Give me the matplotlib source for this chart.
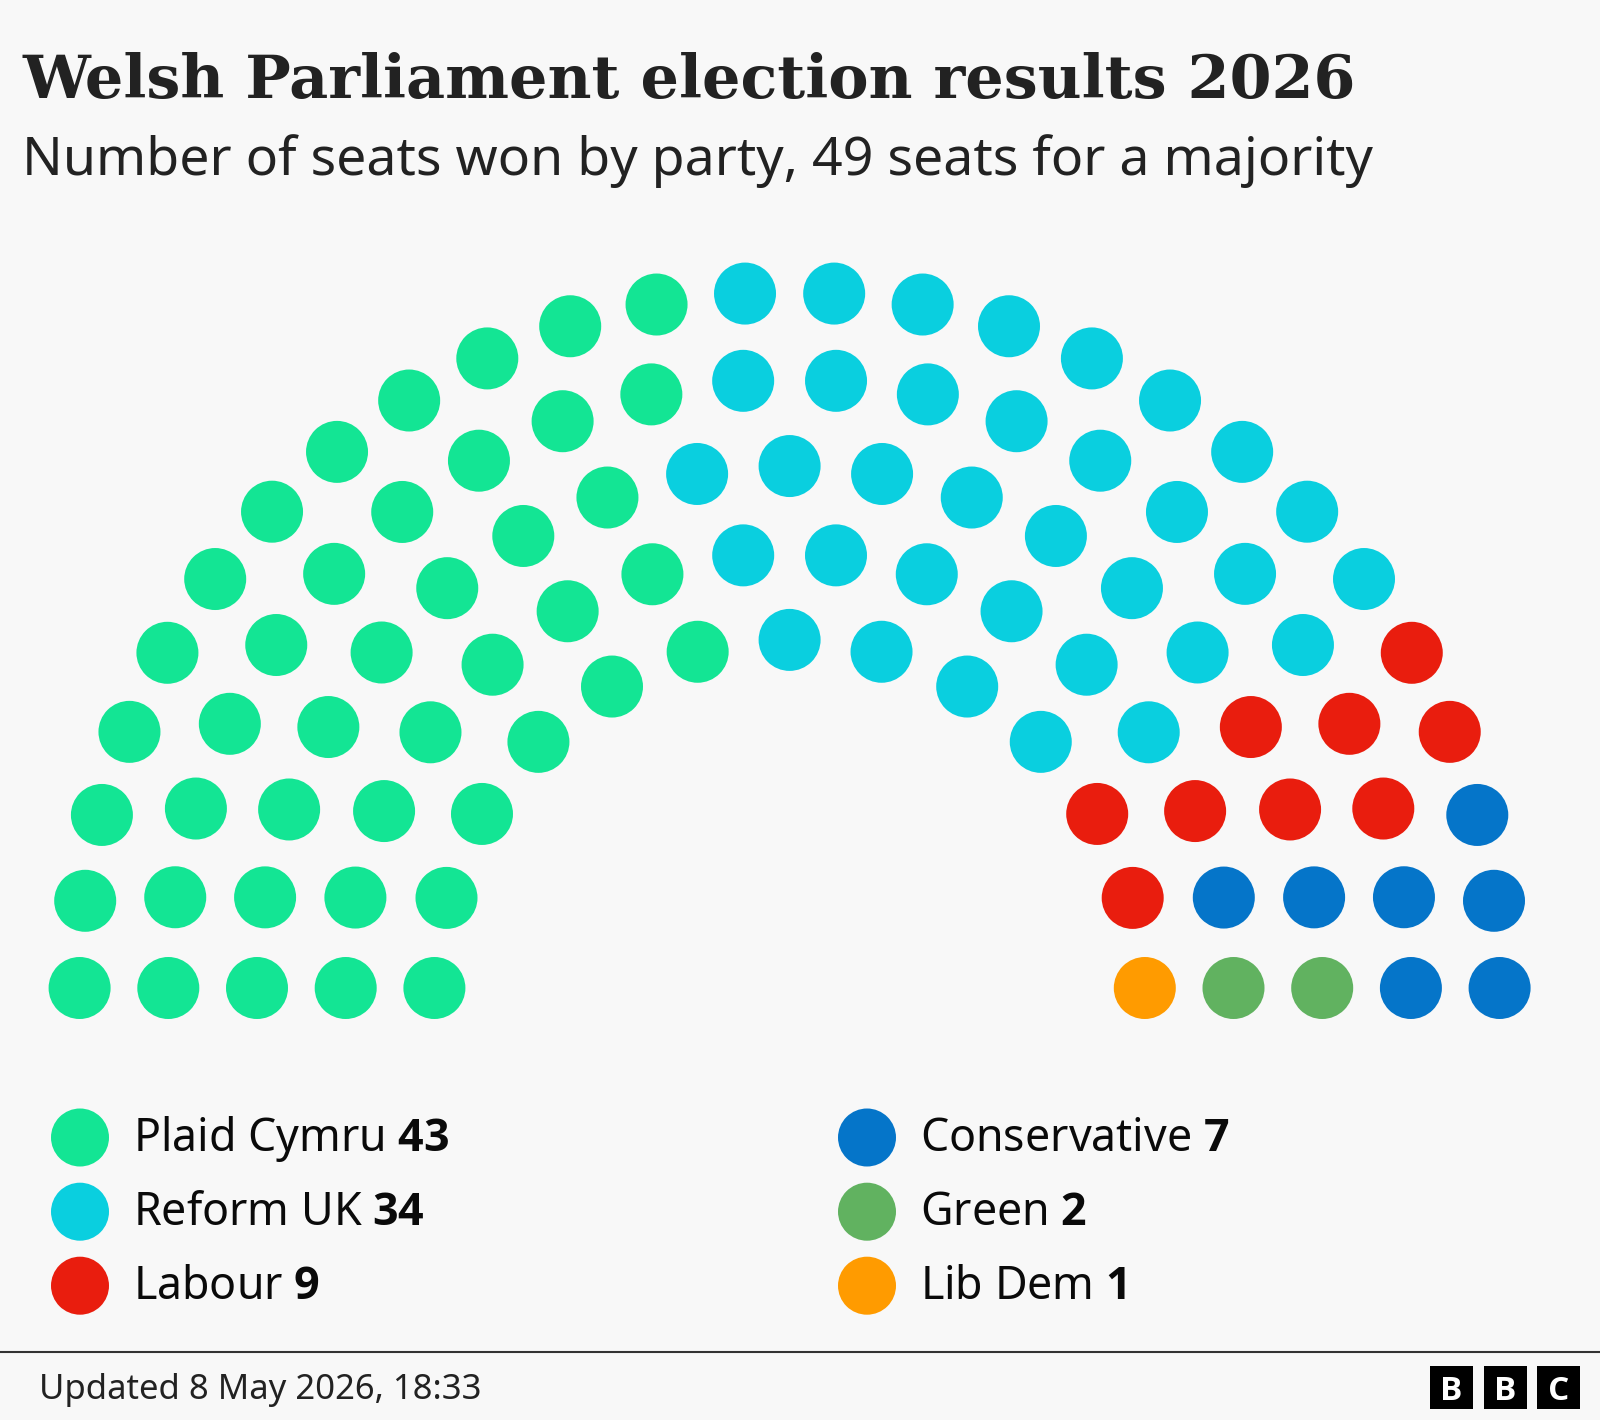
import numpy as np
import matplotlib
matplotlib.use("Agg")
import matplotlib.pyplot as plt
from matplotlib.patches import Circle, Rectangle

# ------------------------------------------------------------
# data
# ------------------------------------------------------------
PARTIES = ["Plaid Cymru", "Reform UK", "Labour", "Conservative", "Green", "Lib Dem"]
SEATS = [43, 34, 9, 7, 2, 1]
COLOURS = ["#13e594", "#0acfdf", "#e91d0e", "#0575c9", "#61b260", "#ff9b00"]
MAJORITY = 49

TITLE = "Welsh Parliament election results 2026"
SUBTITLE = f"Number of seats won by party, {MAJORITY} seats for a majority"
FOOTER = "Updated 8 May 2026, 18:33"
LOGO = ["B", "B", "C"]

# ------------------------------------------------------------
# layout (pixel units, origin top-left)
# ------------------------------------------------------------
W, H = 1600, 1420
BG = "#f8f8f8"
ROW_SEATS = [26, 22, 19, 16, 13]   # outer -> inner
CX, CY = 789.6, 988.0              # centre of the hemicycle (bottom row)
R_OUTER = 710.0
ROW_GAP = 88.7
Y_SQUASH = 0.98
DOT_R = 31

SANS = "Noto Sans"
SANS_BOLD = "Open Sans"   # Noto Sans has no bold face here
SERIF = "DejaVu Serif"

plt.rcParams["mathtext.fontset"] = "custom"
plt.rcParams["mathtext.rm"] = SANS
plt.rcParams["mathtext.bf"] = f"{SANS_BOLD}:bold"


def seat_positions():
    """seats of every row, ordered by angle from left to right (outer first on ties)"""
    seats = []
    for i, n in enumerate(ROW_SEATS):
        r = R_OUTER - i * ROW_GAP
        for j in range(n):
            a = np.pi * (1 - j / (n - 1))
            seats.append((round(a, 6), -r, CX + r * np.cos(a), CY - r * Y_SQUASH * np.sin(a)))
    seats.sort(key=lambda s: (-s[0], s[1]))
    return [(s[2], s[3]) for s in seats]


def fit_width(txt, target, renderer):
    """rescale font so the text spans `target` pixels"""
    w = txt.get_window_extent(renderer).width
    txt.set_fontsize(txt.get_fontsize() * target / w)
    return txt.get_fontsize()


fig = plt.figure(figsize=(W / 100, H / 100), dpi=100, facecolor=BG)
ax = fig.add_axes([0, 0, 1, 1])
ax.set_xlim(0, W)
ax.set_ylim(H, 0)
ax.axis("off")
renderer = fig.canvas.get_renderer()

# ---- title / subtitle ----
t = ax.text(22, 98, TITLE, family=SERIF, fontweight="bold", fontsize=40,
            color="#222222", va="baseline", ha="left")
fit_width(t, 1331, renderer)
s = ax.text(22, 175.5, SUBTITLE, family=SANS, fontsize=28,
            color="#222222", va="baseline", ha="left")
fit_width(s, 1350, renderer)

# ---- hemicycle ----
colours = np.repeat(COLOURS, SEATS)
for (x, y), c in zip(seat_positions(), colours):
    ax.add_patch(Circle((x, y), DOT_R, color=c, lw=0))

# ---- legend ----
leg_x = [80, 867]
leg_y = [1137.5, 1211.7, 1285.7]
leg_size = None
for k, (name, n, c) in enumerate(zip(PARTIES, SEATS, COLOURS)):
    x, y = leg_x[k // 3], leg_y[k % 3]
    ax.add_patch(Circle((x, y), 29, color=c, lw=0))
    lt = ax.text(x + 53, y + 13.5, f"{name} $\\mathbf{{{n}}}$", family=SANS,
                 fontsize=leg_size or 24, color="#0a0a0a", va="baseline", ha="left")
    if leg_size is None:
        leg_size = fit_width(lt, 317, renderer)

# ---- footer ----
ax.plot([0, W], [1351.5, 1351.5], color="#333333", lw=1.5, solid_capstyle="butt")
f = ax.text(39, 1399, FOOTER, family=SANS, fontsize=20, color="#222222",
            va="baseline", ha="left")
fit_width(f, 443, renderer)

for i, letter in enumerate(LOGO):
    x0 = 1430 + i * 53.5
    ax.add_patch(Rectangle((x0, 1366), 43, 43, color="black", lw=0))
    ax.text(x0 + 21.5, 1388, letter, family=SANS_BOLD, fontweight="bold", fontsize=24,
            color="white", ha="center", va="center_baseline")

fig.savefig("out.png", dpi=100, facecolor=BG)
